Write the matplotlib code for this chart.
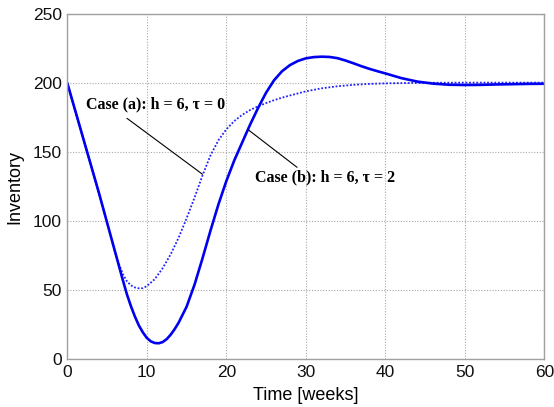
import matplotlib
matplotlib.use("Agg")
import matplotlib.pyplot as plt

# Case (b): h = 6, tau = 2 (solid)
t_b = [0, 1, 2, 3, 4, 5, 6, 7, 7.5, 8, 8.5, 9, 9.5, 10, 10.5, 11, 11.5, 12,
       12.5, 13, 13.5, 14, 15, 16, 17, 18, 19, 20, 21, 22, 23, 24, 25, 26, 27,
       28, 29, 30, 31, 32, 33, 34, 35, 36, 37, 38, 39, 40, 42, 44, 46, 48, 50,
       52, 54, 56, 58, 60]
inv_b = [200, 180, 160, 140, 120, 99, 78, 57, 47, 38.5, 31, 24.5, 19.5, 15.5,
         13, 11.8, 11.6, 12.5, 14.6, 17.8, 21.8, 26.5, 38, 54, 73, 93, 112,
         129, 144, 157, 170, 182, 193, 202, 208.5, 213, 216, 217.9, 218.8,
         219.1, 218.9, 218.0, 216.3, 214.3, 212.2, 210.3, 208.6, 207, 203.6,
         201.1, 199.6, 198.8, 198.6, 198.7, 199, 199.2, 199.4, 199.5]

# Case (a): h = 6, tau = 0 (dotted)
t_a = [0, 1, 2, 3, 4, 5, 6, 6.5, 7, 7.5, 8, 8.5, 9, 9.5, 10, 10.5, 11, 12,
       13, 14, 15, 16, 17, 18, 19, 20, 21, 22, 23, 24, 25, 26, 27, 28, 29, 30,
       32, 34, 36, 38, 40, 45, 50, 55, 60]
inv_a = [200, 180, 160, 140, 120, 99, 78, 69, 61.5, 56.5, 53.5, 52, 51.4,
         51.5, 53, 55.5, 58, 66, 76, 88, 102, 117, 133, 147.5, 158.5, 166.5,
         172.5, 177, 180.5, 183.2, 185.5, 187.6, 189.4, 191, 192.5, 194,
         196.2, 197.7, 198.7, 199.4, 199.8, 200.2, 200.3, 200.3, 200.3]

x_ticks = [0, 10, 20, 30, 40, 50, 60]
y_ticks = [0, 50, 100, 150, 200, 250]

label_a = "Case (a): h = 6, τ = 0"
label_b = "Case (b): h = 6, τ = 2"

fig = plt.figure(figsize=(5.54, 4.07), dpi=100, facecolor="white")
ax = fig.add_axes([0.1215, 0.1172, 0.861, 0.8484])

ax.plot(t_a, inv_a, color="#2020ff", lw=1.3, linestyle=(0, (1, 1)))
ax.plot(t_b, inv_b, color="#0000f0", lw=1.9, solid_capstyle="round",
        solid_joinstyle="round")

ax.set_xlim(0, 60)
ax.set_ylim(0, 250)
ax.set_xticks(x_ticks)
ax.set_yticks(y_ticks)
ax.grid(True, color="#a8a8a8", lw=0.8, linestyle=(0, (1, 1.5)))
ax.set_axisbelow(True)
for s in ax.spines.values():
    s.set_color("#a0a0a0")
    s.set_linewidth(1.0)
ax.tick_params(length=0, labelsize=12.5, pad=4, colors="#111111")
for lab in ax.get_xticklabels() + ax.get_yticklabels():
    lab.set_fontfamily("Liberation Sans")

ax.set_xlabel("Time [weeks]", fontsize=13, fontfamily="Liberation Sans",
              labelpad=5)
ax.set_ylabel("Inventory", fontsize=13, fontfamily="Liberation Sans",
              labelpad=7)

ax.annotate("", xy=(17.0, 134), xytext=(7.5, 174.5),
            arrowprops=dict(arrowstyle="-", lw=0.8, color="black",
                            shrinkA=0, shrinkB=0))
ax.annotate("", xy=(22.8, 166), xytext=(28.9, 139),
            arrowprops=dict(arrowstyle="-", lw=0.8, color="black",
                            shrinkA=0, shrinkB=0))
ax.text(2.4, 184.5, label_a, fontsize=11.5, fontweight="bold",
        fontfamily="Liberation Serif", va="center", ha="left")
ax.text(23.6, 132, label_b, fontsize=11.5, fontweight="bold",
        fontfamily="Liberation Serif", va="center", ha="left")

fig.savefig("out.png", dpi=100, facecolor="white")
